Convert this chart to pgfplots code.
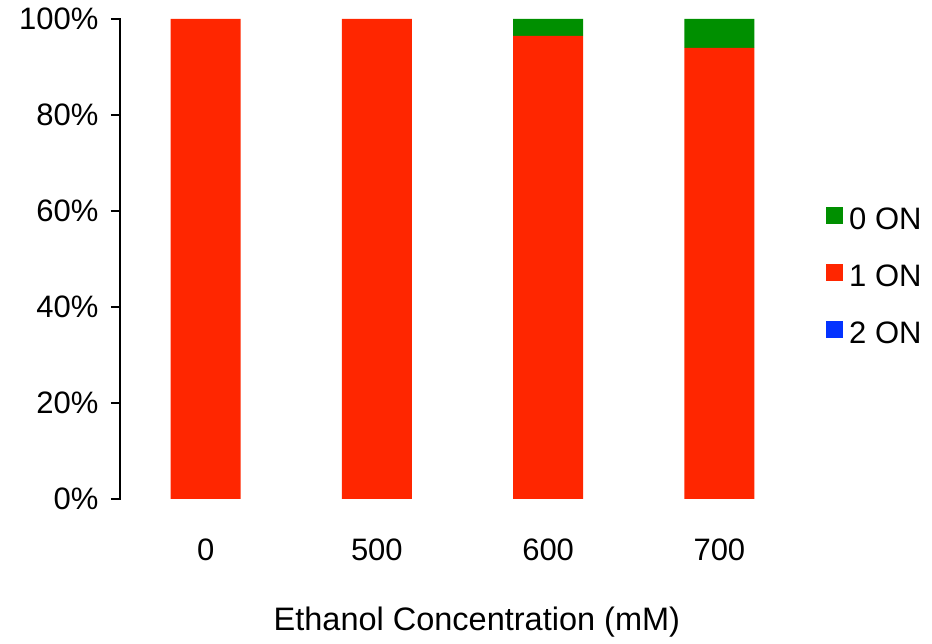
\documentclass[border=0pt]{standalone}
\usepackage{pgfplots}
\pgfplotsset{compat=1.18}
\usepackage{fontspec}
\setmainfont{Liberation Sans}

\definecolor{ongreen}{RGB}{0,143,0}
\definecolor{onred}{RGB}{255,38,0}
\definecolor{onblue}{RGB}{4,51,255}

\begin{document}
\begin{tikzpicture}
	\useasboundingbox (-120pt,-145pt) rectangle (812pt,499pt);
	\begin{axis}[
			anchor=south west,
			at={(0pt,0pt)},
			scale only axis,
			width=685pt,
			height=480pt,
			font=\fontsize{31}{37}\selectfont,
			ybar stacked,
			bar width=70pt,
			xmin=-0.5, xmax=3.5,
			ymin=0, ymax=100,
			xtick=data,
			xticklabels={0,500,600,700},
			ytick={0,20,40,60,80,100},
			yticklabels={0\%,20\%,40\%,60\%,80\%,100\%},
			axis lines*=left,
			x axis line style={draw=none},
			y axis line style={line width=2.5pt, line cap=rect},
			xtick style={draw=none},
			ytick style={line width=2.5pt, black},
			tick align=outside,
			ytick pos=left,
			major tick length=9pt,
			yticklabel style={xshift=-9pt},
			xticklabel style={yshift=-27pt},
			xlabel={Ethanol Concentration (mM)},
			xlabel style={font=\fontsize{32.5}{38}\selectfont, at={(axis description cs:0.521,-0.256)}, anchor=center},
			reverse legend,
			legend cell align=left,
			legend style={
				at={(axis description cs:1.0307,0.608)},
				anchor=north west,
				draw=none, fill=none,
				inner sep=0pt,
				row sep=35pt,
				nodes={inner sep=0pt, text height=22pt, text depth=0pt},
				/tikz/every odd column/.append style={column sep=6pt},
			},
			legend image code/.code={
				\fill[#1] (0pt,-6pt) rectangle (17pt,11pt);
			},
		]
		\addplot[fill=onblue, draw=none] coordinates {(0,0) (1,0) (2,0) (3,0)};
		\addplot[fill=onred, draw=none] coordinates {(0,100) (1,100) (2,96.5) (3,94)};
		\addplot[fill=ongreen, draw=none] coordinates {(0,0) (1,0) (2,3.5) (3,6)};
		\legend{2 ON,1 ON,0 ON}
	\end{axis}
\end{tikzpicture}
\end{document}
